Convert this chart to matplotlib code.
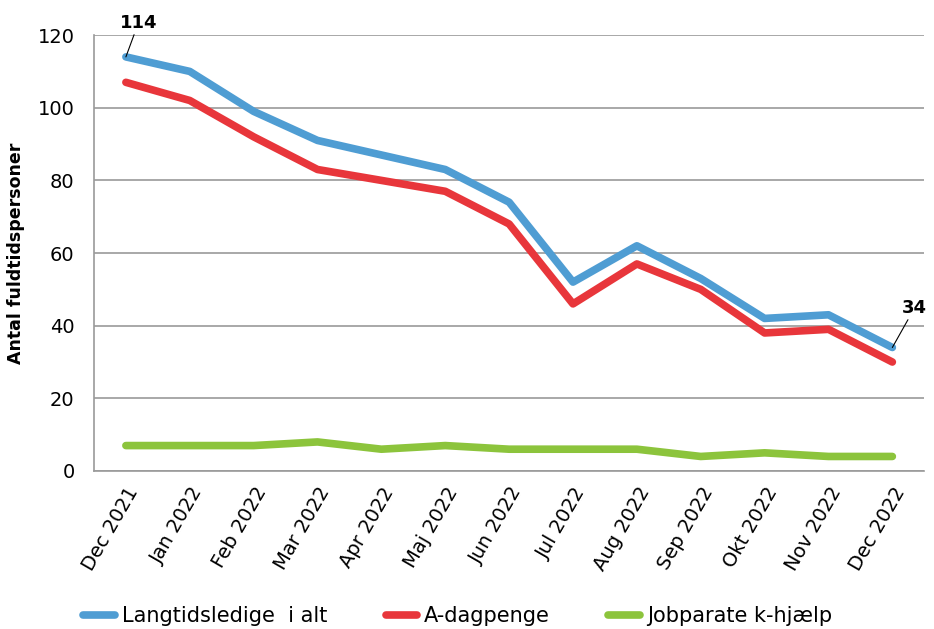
import matplotlib.pyplot as plt

maaneder = ['Dec 2021', 'Jan 2022', 'Feb 2022', 'Mar 2022', 'Apr 2022', 'Maj 2022',
            'Jun 2022', 'Jul 2022', 'Aug 2022', 'Sep 2022', 'Okt 2022', 'Nov 2022',
            'Dec 2022']
langtid = [114, 110, 99, 91, 87, 83, 74, 52, 62, 53, 42, 43, 34]
dagpenge = [107, 102, 92, 83, 80, 77, 68, 46, 57, 50, 38, 39, 30]
kontant = [7, 7, 7, 8, 6, 7, 6, 6, 6, 4, 5, 4, 4]

plt.rcParams['font.family'] = ['DejaVu Sans']

fig = plt.figure(figsize=(9.34, 6.29), dpi=100)
ax = fig.add_axes([0.1006, 0.2512, 0.889, 0.693])

x = range(len(maaneder))
ax.plot(x, langtid, color='#4F9DD3', linewidth=5.5, label='Langtidsledige  i alt',
        solid_capstyle='round', zorder=3)
ax.plot(x, dagpenge, color='#E8363B', linewidth=5.5, label='A-dagpenge',
        solid_capstyle='round', zorder=3)
ax.plot(x, kontant, color='#8CC43C', linewidth=5.5, label='Jobparate k-hjælp',
        solid_capstyle='round', zorder=3)

ax.set_xlim(-0.5, len(maaneder) - 0.5)
ax.set_ylim(0, 120)
ax.set_yticks(range(0, 121, 20))
ax.set_xticks(list(x))
ax.set_xticklabels(maaneder, rotation=60, ha='right', rotation_mode='anchor',
                   fontsize=14)
ax.tick_params(axis='y', labelsize=14, length=0, pad=14)
ax.tick_params(axis='x', length=0, pad=9)

ax.grid(axis='y', color='#9a9a9a', linewidth=1.2)
ax.set_axisbelow(True)
for s in ['top', 'right']:
    ax.spines[s].set_visible(False)
ax.spines['left'].set_color('#9a9a9a')
ax.spines['bottom'].set_color('#9a9a9a')
ax.spines['left'].set_linewidth(1.2)
ax.spines['bottom'].set_linewidth(1.2)

ax.set_ylabel('Antal fuldtidspersoner', fontsize=12.5, fontweight='bold', labelpad=9)

# Anotar første og sidste værdi
ax.annotate(f'{langtid[0]}', xy=(0, langtid[0]), xytext=(9, 18),
            textcoords='offset points', fontsize=13, fontweight='bold',
            ha='center', va='bottom', annotation_clip=False,
            arrowprops=dict(arrowstyle='-', color='black', linewidth=0.8,
                            shrinkA=0, shrinkB=0))
ax.annotate(f'{langtid[-1]}', xy=(12, langtid[-1]), xytext=(16, 22),
            textcoords='offset points', fontsize=13, fontweight='bold',
            ha='center', va='bottom', annotation_clip=False,
            arrowprops=dict(arrowstyle='-', color='black', linewidth=0.8,
                            shrinkA=0, shrinkB=0))

fig.legend(loc='lower center', bbox_to_anchor=(0.49, -0.025), ncol=3, frameon=False,
           fontsize=15, handlelength=1.5, handletextpad=0.35, columnspacing=2.8)

plt.savefig('out.png', dpi=100)
